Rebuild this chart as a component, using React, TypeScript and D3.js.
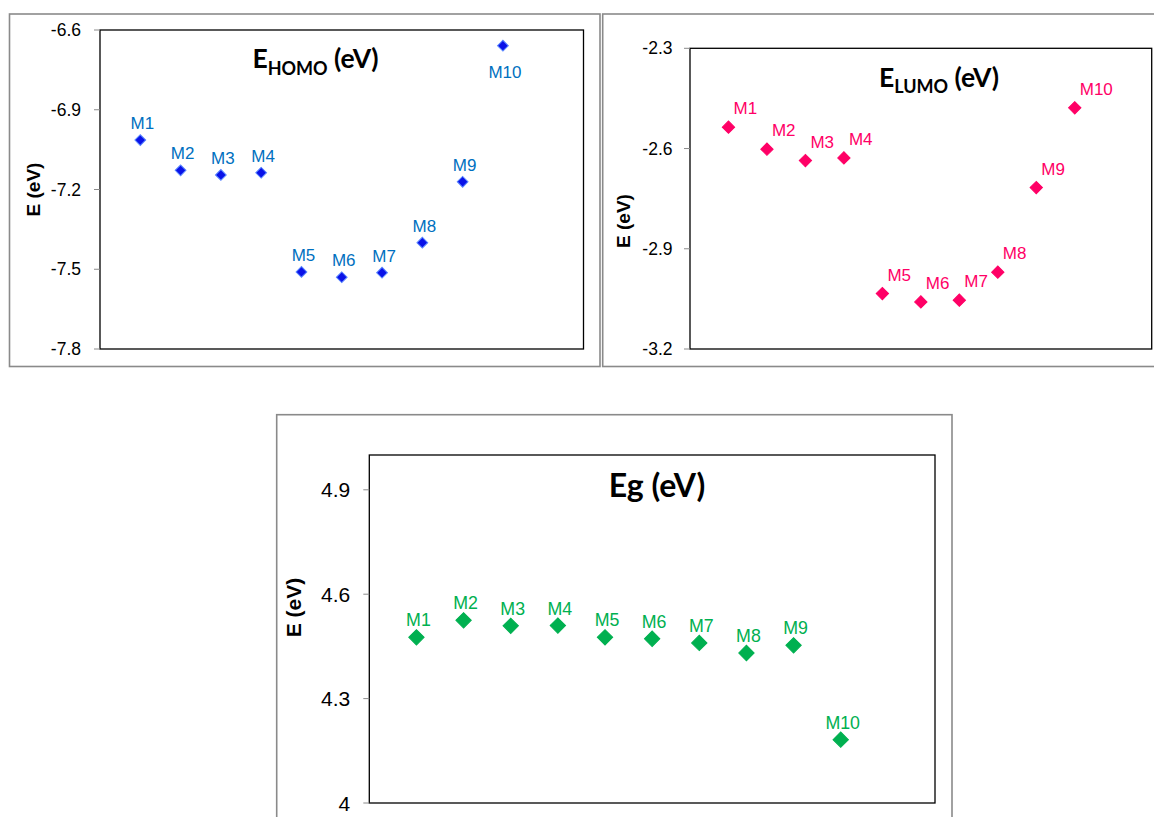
import React from "react";
import * as d3 from "d3";

const categories = ["M1", "M2", "M3", "M4", "M5", "M6", "M7", "M8", "M9", "M10"];
const homo = [-7.014, -7.128, -7.145, -7.137, -7.51, -7.53, -7.513, -7.4, -7.171, -6.659];
const lumo = [-2.536, -2.602, -2.636, -2.628, -3.034, -3.059, -3.054, -2.97, -2.717, -2.478];
const eg = [4.476, 4.525, 4.509, 4.51, 4.476, 4.472, 4.46, 4.431, 4.453, 4.182];
const homoTicks = [-7.8, -7.5, -7.2, -6.9, -6.6];
const lumoTicks = [-3.2, -2.9, -2.6, -2.3];
const egTicks = [4, 4.3, 4.6, 4.9];

const ARIAL = "'Liberation Sans', Arial, Helvetica, sans-serif";
const TITLE = "Lato, 'Open Sans', sans-serif";

type PanelProps = {
  outer: [number, number, number, number];
  plot: [number, number, number, number];
  yDomain: [number, number];
  ticks: number[];
  values: number[];
  tickSize: number;
  tickGap: number;
  labelSize: number;
  yLabel: { x: number; y: number; size: number };
  color: string;
  stroke: string;
  labelColor: string;
  markerArea: number;
  labelMode: "above" | "right";
  lastBelow: boolean;
  title: React.ReactNode;
};

function Panel(p: PanelProps) {
  const [px0, py0, px1, py1] = p.plot;
  const x = d3.scaleLinear().domain([0, 12]).range([px0, px1]);
  const y = d3.scaleLinear().domain(p.yDomain).range([py1, py0]);
  const sym = d3.symbol(d3.symbolSquare, p.markerArea)();
  const [ox0, oy0, ox1, oy1] = p.outer;
  return (
    <g>
      <rect x={ox0} y={oy0} width={ox1 - ox0} height={oy1 - oy0} fill="#fff" stroke="#8a8a8a" strokeWidth={1.6} />
      <rect x={px0} y={py0} width={px1 - px0} height={py1 - py0} fill="#fff" stroke="#000" strokeWidth={1.3} />
      {p.ticks.map((t) => (
        <g key={t}>
          <line x1={px0 - 6} x2={px0} y1={y(t)} y2={y(t)} stroke="#8a8a8a" strokeWidth={1} />
          <text
            x={px0 - p.tickGap}
            y={y(t)}
            textAnchor="end"
            dominantBaseline="central"
            fontFamily={ARIAL}
            fontSize={p.tickSize}
            fill="#000"
          >
            {String(t)}
          </text>
        </g>
      ))}
      <text
        transform={`translate(${p.yLabel.x},${p.yLabel.y}) rotate(-90)`}
        textAnchor="middle"
        dominantBaseline="central"
        fontFamily={ARIAL}
        fontWeight="bold"
        fontSize={p.yLabel.size}
      >
        E (eV)
      </text>
      {p.title}
      {p.values.map((v, i) => {
        const cx = x(i + 1);
        const cy = y(v);
        const isLast = i === p.values.length - 1;
        let lx = cx + 2;
        let ly = cy - 11;
        let anchor: "middle" | "start" = "middle";
        if (p.labelMode === "right") {
          lx = cx + 5;
          ly = cy - 13;
          anchor = "start";
        } else if (isLast && p.lastBelow) {
          ly = cy + 32;
        }
        return (
          <g key={categories[i]}>
            <path
              d={sym}
              transform={`translate(${cx},${cy}) rotate(45)`}
              fill={p.color}
              stroke={p.stroke}
              strokeWidth={1}
            />
            <text x={lx} y={ly} textAnchor={anchor} fontFamily={ARIAL} fontSize={p.labelSize} fill={p.labelColor}>
              {categories[i]}
            </text>
          </g>
        );
      })}
    </g>
  );
}

export default function App() {
  return (
    <svg
      width={1154}
      height={817}
      style={{ position: "absolute", left: 0, top: 0, background: "#fff" }}
    >
      <rect x={0} y={0} width={1154} height={817} fill="#fff" />
      <Panel
        outer={[9.5, 14, 600, 366.5]}
        plot={[100, 30, 583.5, 349]}
        yDomain={[-7.8, -6.6]}
        ticks={homoTicks}
        values={homo}
        tickSize={17.5}
        tickGap={19}
        labelSize={17}
        yLabel={{ x: 33.5, y: 189.5, size: 19 }}
        color="#0a12e8"
        stroke="#5a86ff"
        labelColor="#0070c0"
        markerArea={58}
        labelMode="above"
        lastBelow={true}
        title={
          <text x={315.5} y={68.3} textAnchor="middle" fontFamily={TITLE} fontWeight="bold" fontSize={26.5}>
            E<tspan fontSize={18} dy={6.5}>HOMO</tspan>
            <tspan dy={-6.5}> (eV)</tspan>
          </text>
        }
      />
      <Panel
        outer={[602.7, 14, 1170, 366.5]}
        plot={[690, 48.3, 1151.7, 349]}
        yDomain={[-3.2, -2.3]}
        ticks={lumoTicks}
        values={lumo}
        tickSize={17.5}
        tickGap={17.5}
        labelSize={17}
        yLabel={{ x: 623.5, y: 221, size: 19 }}
        color="#ff0066"
        stroke="#ff0066"
        labelColor="#ff0066"
        markerArea={76}
        labelMode="right"
        lastBelow={false}
        title={
          <text x={939} y={86.5} textAnchor="middle" fontFamily={TITLE} fontWeight="bold" fontSize={26.5}>
            E<tspan fontSize={18} dy={6.5}>LUMO</tspan>
            <tspan dy={-6.5}> (eV)</tspan>
          </text>
        }
      />
      <Panel
        outer={[276.7, 414.7, 952, 840]}
        plot={[369.3, 455, 935, 803]}
        yDomain={[4, 5]}
        ticks={egTicks}
        values={eg}
        tickSize={21}
        tickGap={19}
        labelSize={17.8}
        yLabel={{ x: 293.5, y: 607.5, size: 21 }}
        color="#00b050"
        stroke="#00b050"
        labelColor="#00b050"
        markerArea={118}
        labelMode="above"
        lastBelow={false}
        title={
          <text x={657} y={497} textAnchor="middle" fontFamily={TITLE} fontWeight="bold" fontSize={32}>
            Eg (eV)
          </text>
        }
      />
    </svg>
  );
}
